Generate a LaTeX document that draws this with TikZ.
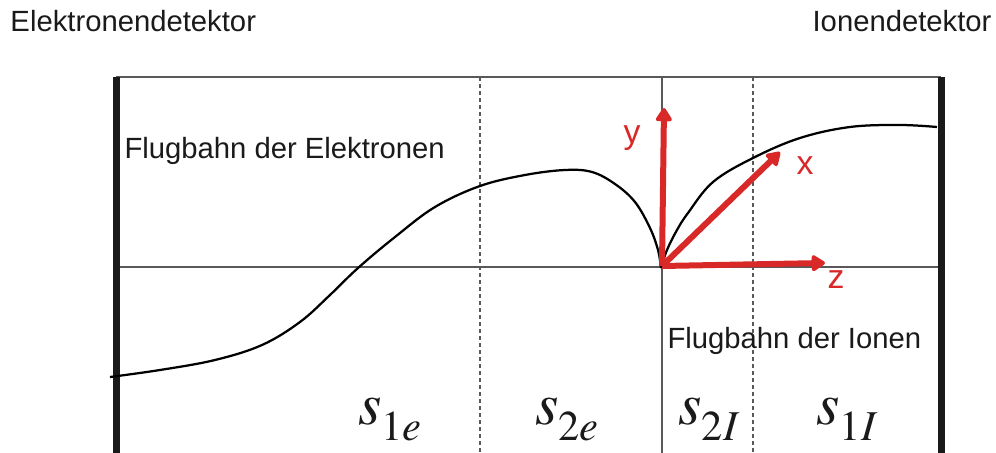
\documentclass[tikz,border=0pt]{standalone}
\usepackage{fontspec}
\setmainfont{Liberation Sans}
\newfontfamily\segfont{texgyretermes}[Extension=.otf, UprightFont=*-regular, ItalicFont=*-italic]
\usetikzlibrary{arrows.meta}

\definecolor{axisred}{RGB}{217,40,40}
\definecolor{inkgray}{RGB}{26,26,26}

% segment length s with subscript
\newcommand{\seglen}[2]{%
	{\segfont\itshape s}\raisebox{-6.4pt}{\fontsize{17}{19}\segfont #1\itshape #2}}

\begin{document}
\begin{tikzpicture}[
			x=0.4pt, y=-0.4pt,
			detector/.style={
				line width=2.8pt,
				draw=inkgray
			},
			frameline/.style={
				line width=0.5pt,
				draw=black!65
			},
			regionline/.style={
				frameline,
				dash pattern=on 1.6pt off 1.2pt
			},
			orbit/.style={
				line width=0.9pt,
				draw=black
			},
			axisarrow/.style={
				line width=2.4pt,
				draw=axisred,
				-{Triangle[width=7.2pt, length=6pt, round]}
			},
			axislabel/.style={
				text=axisred,
				font=\fontsize{13.5}{16}\selectfont
			},
			caption/.style={
				inner sep=0pt,
				text=inkgray,
				font=\fontsize{11.7}{14}\selectfont
			},
			seglabel/.style={
				anchor=base,
				inner sep=0pt,
				text=inkgray,
				font=\fontsize{24}{26}\selectfont
			}
			]

			\useasboundingbox (0,0) rectangle (996,453);

			% Frame and axis
			\draw[frameline] (116,77) -- (941,77);
			\draw[frameline] (116,267) -- (941,267);

			% Region boundaries
			\draw[regionline] (480,77) -- (480,453);
			\draw[regionline] (753,77) -- (753,453);
			\draw[frameline] (662,77) -- (662,453);

			% Detectors
			\draw[detector] (116,77) -- (116,453);
			\draw[detector] (941,77) -- (941,453);

			% Electron path
			\draw[orbit] plot [smooth, tension=0.6] coordinates
			{(110,377) (160,370) (215,360) (262,345) (300,322) (330,295)
			(358,268) (395,237) (435,207) (480,186) (525,175) (565,170)
			(592,172) (615,184) (635,202) (650,228) (658,250) (661,268)};

			% Ion path
			\draw[orbit] plot [smooth, tension=0.6] coordinates
			{(661,268) (667,250) (677,230) (688,213) (713,182) (753,158)
			(800,138) (850,127) (900,125) (937,127)};

			% Coordinate system
			\coordinate (O) at (662,266);
			\coordinate (ytip) at (664,108);
			\coordinate (xtip) at (780,152);
			\coordinate (ztip) at (825,263);
			\draw[axisarrow] (O) -- (ytip);
			\draw[axisarrow] (O) -- (xtip);
			\draw[axisarrow] (O) -- (ztip);
			\node[axislabel] (ylabel) at (632,138) {y};
			\node[axislabel] (xlabel) at (805,166) {x};
			\node[axislabel] (zlabel) at (836,280) {z};

			% Labels
			\node[caption, anchor=base west] (edet) at (10,32) {Elektronendetektor};
			\node[caption, anchor=base east] (idet) at (992,32) {Ionendetektor};
			\node[caption, anchor=base west] (epath) at (124,158) {Flugbahn der Elektronen};
			\node[caption, anchor=base west] (ipath) at (667,348) {Flugbahn der Ionen};

			% Segment lengths
			\node[seglabel] (s1e) at (390,425) {\seglen{1}{e}};
			\node[seglabel] (s2e) at (567,425) {\seglen{2}{e}};
			\node[seglabel] (s2i) at (708,425) {\seglen{2}{I}};
			\node[seglabel] (s1i) at (846,425) {\seglen{1}{I}};

		\end{tikzpicture}
\end{document}
